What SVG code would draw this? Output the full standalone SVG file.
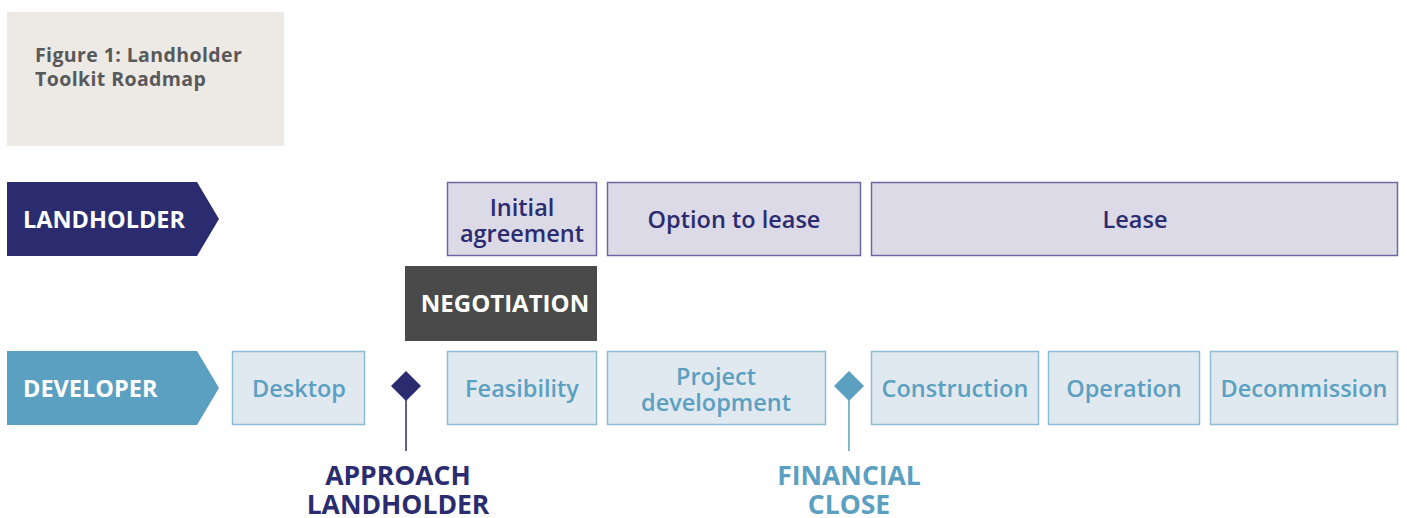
<svg xmlns="http://www.w3.org/2000/svg" width="1407" height="518" viewBox="0 0 1407 518">
<style>
.title{font-family:"Open Sans","Liberation Sans",sans-serif;font-weight:700;font-size:19.5px;letter-spacing:0.4px;fill:#58595b}
.lbl{font-family:"Open Sans","Liberation Sans",sans-serif;font-weight:700;font-size:23.5px;fill:#fff}
.lb{fill:#dcdae7;stroke:#6b68a3;stroke-width:1.5}
.lt{font-family:"Open Sans","Liberation Sans",sans-serif;font-weight:600;font-size:23.5px;fill:#2b2c6f;text-anchor:middle}
.db{fill:#e1e9f0;stroke:#8dbdd4;stroke-width:1.5}
.dt{font-family:"Open Sans","Liberation Sans",sans-serif;font-weight:600;font-size:23.5px;fill:#5ba0c0;text-anchor:middle}
.ms{font-family:"Open Sans","Liberation Sans",sans-serif;font-weight:700;font-size:26.5px;text-anchor:middle}
</style>
<rect x="7" y="12" width="277" height="134" fill="#edeae5"/>
<text class="title" x="35" y="62">Figure 1: Landholder</text>
<text class="title" x="35" y="86">Toolkit Roadmap</text>

<g id="landholder">
<polygon points="7,182 197,182 219,219 197,256 7,256" fill="#2b2c6f"/>
<text class="lbl" x="23" y="228">LANDHOLDER</text>
</g>
<g id="initial-agreement">
<rect class="lb" x="447.5" y="182.5" width="149" height="73"/>
<text class="lt" x="522" y="216">Initial</text>
<text class="lt" x="522" y="242">agreement</text>
</g>
<g id="option-to-lease">
<rect class="lb" x="607.5" y="182.5" width="253" height="73"/>
<text class="lt" x="734" y="228">Option to lease</text>
</g>
<g id="lease">
<rect class="lb" x="871.5" y="182.5" width="526" height="73"/>
<text class="lt" x="1135" y="228">Lease</text>
</g>
<g id="negotiation">
<rect x="405" y="266" width="192" height="75" fill="#494a49"/>
<text class="lbl" x="505" y="312" text-anchor="middle" style="font-size:24px">NEGOTIATION</text>
</g>

<g id="developer">
<polygon points="7,351 197,351 219,388 197,425 7,425" fill="#5ba0c0"/>
<text class="lbl" x="23" y="397">DEVELOPER</text>
</g>
<g id="desktop">
<rect class="db" x="232.5" y="351.5" width="132" height="73"/>
<text class="dt" x="299" y="397">Desktop</text>
</g>
<g id="feasibility">
<rect class="db" x="447.5" y="351.5" width="149" height="73"/>
<text class="dt" x="522" y="397">Feasibility</text>
</g>
<g id="project-development">
<rect class="db" x="607.5" y="351.5" width="218" height="73"/>
<text class="dt" x="716" y="385">Project</text>
<text class="dt" x="716" y="411">development</text>
</g>
<g id="construction">
<rect class="db" x="871.5" y="351.5" width="167" height="73"/>
<text class="dt" x="955" y="397">Construction</text>
</g>
<g id="operation">
<rect class="db" x="1048.5" y="351.5" width="151" height="73"/>
<text class="dt" x="1124" y="397">Operation</text>
</g>
<g id="decommission">
<rect class="db" x="1210.5" y="351.5" width="187" height="73"/>
<text class="dt" x="1304" y="397">Decommission</text>
</g>

<g id="connectors">
<line x1="406" y1="400" x2="406" y2="451" stroke="#2b2c6f" stroke-width="1.5"/>
<line x1="849" y1="400" x2="849" y2="451" stroke="#5ba0c0" stroke-width="1.5"/>
</g>
<g id="approach-landholder">
<polygon points="406,371 421,386 406,401 391,386" fill="#2b2c6f"/>
<text class="ms" x="398" y="485" fill="#2b2c6f">APPROACH</text>
<text class="ms" x="398" y="514" fill="#2b2c6f">LANDHOLDER</text>
</g>
<g id="financial-close">
<polygon points="849,371 864,386 849,401 834,386" fill="#5ba0c0"/>
<text class="ms" x="849" y="485" fill="#5ba0c0">FINANCIAL</text>
<text class="ms" x="849" y="514" fill="#5ba0c0">CLOSE</text>
</g>
</svg>
